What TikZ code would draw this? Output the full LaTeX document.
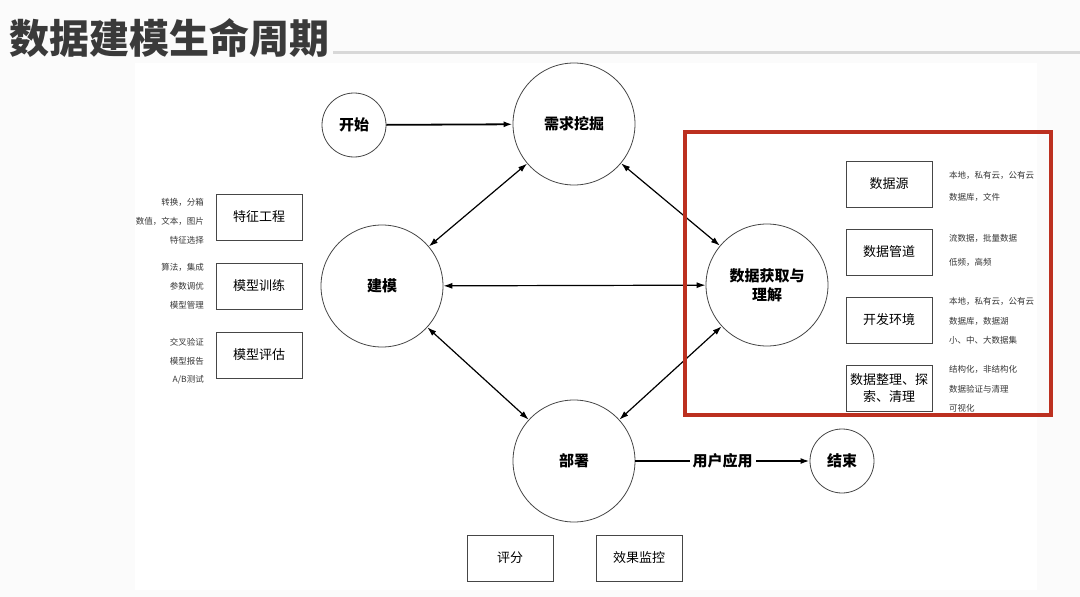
\documentclass[tikz,border=0pt]{standalone}
\usepackage{fontspec}
\setmainfont{Noto Sans CJK SC}
\usetikzlibrary{arrows.meta}
\definecolor{redink}{RGB}{188, 48, 32}
\definecolor{lineink}{RGB}{70, 70, 70}
\definecolor{titleink}{RGB}{58, 58, 58}
\definecolor{noteink}{RGB}{55, 55, 55}
\definecolor{ruleink}{RGB}{216, 216, 216}
\definecolor{pageink}{RGB}{251, 251, 251}

\begin{document}
\begin{tikzpicture}[x=1pt, y=-1pt,
  stage/.style={circle, draw=lineink, line width=0.8pt, minimum size=122pt, inner sep=0pt, align=center, font=\bfseries\fontsize{15}{19}\selectfont},
  endstage/.style={stage, minimum size=64pt},
  task/.style={rectangle, draw=lineink, line width=0.8pt, minimum width=86pt, minimum height=46pt, align=center, font=\fontsize{13}{17}\selectfont},
  note/.style={font=\fontsize{8.5}{10}\selectfont, text=noteink, inner sep=0pt},
  flow/.style={-{Latex[length=9pt, width=6pt]}, line width=1.8pt},
  link/.style={{Latex[length=9pt, width=6pt]}-{Latex[length=9pt, width=6pt]}, line width=1.2pt}]
  \useasboundingbox (0,0) rectangle (1080,597);
  \fill[pageink] (0,0) rectangle (1080,597);
  \fill[white] (135,63) rectangle (1037,590);
  % title
  \node[anchor=west, inner sep=0pt, text=titleink, font=\bfseries\fontsize{40}{46}\selectfont] (title) at (9,38) {数据建模生命周期};
  \draw[ruleink, line width=3pt] (333,52) -- (1080,52);
  % stages
  \node[endstage] (start) at (354,125) {开始};
  \node[stage] (need) at (574,124) {需求挖掘};
  \node[stage] (model) at (382,286) {建模};
  \node[stage] (data) at (767,285) {数据获取与\\理解};
  \node[stage] (deploy) at (574,461) {部署};
  \node[endstage] (finish) at (842,461) {结束};
  \draw[flow] (start) -- (need);
  \draw[link] (need) -- (model);
  \draw[link] (need) -- (data);
  \draw[link] (model) -- (data);
  \draw[link] (model) -- (deploy);
  \draw[link] (data) -- (deploy);
  \draw[flow] (deploy) -- node[fill=white, inner sep=3pt, font=\bfseries\fontsize{15}{19}\selectfont] (use) {用户应用} (finish);
  % modelling tasks
  \node[task] (feat) at (259,217) {特征工程};
  \node[task] (train) at (259,286) {模型训练};
  \node[task] (eval) at (259,355) {模型评估};
  \node[note, anchor=east] (feat1) at (204,202) {转换，分箱};
  \node[note, anchor=east] (feat2) at (204,221) {数值，文本，图片};
  \node[note, anchor=east] (feat3) at (204,240) {特征选择};
  \node[note, anchor=east] (train1) at (204,267) {算法，集成};
  \node[note, anchor=east] (train2) at (204,286) {参数调优};
  \node[note, anchor=east] (train3) at (204,305) {模型管理};
  \node[note, anchor=east] (eval1) at (204,342) {交叉验证};
  \node[note, anchor=east] (eval2) at (204,361) {模型报告};
  \node[note, anchor=east] (eval3) at (204,380) {A/B测试};
  % data tasks
  \draw[redink, line width=3.5pt] (685,132) rectangle (1051,415);
  \node[task] (src) at (889,184) {数据源};
  \node[task] (pipe) at (889,252) {数据管道};
  \node[task] (env) at (889,320) {开发环境};
  \node[task] (clean) at (889,388) {数据整理、探\\索、清理};
  \node[note, anchor=west] (src1) at (949,175) {本地，私有云，公有云};
  \node[note, anchor=west] (src2) at (949,197) {数据库，文件};
  \node[note, anchor=west] (pipe1) at (949,238) {流数据，批量数据};
  \node[note, anchor=west] (pipe2) at (949,262) {低频，高频};
  \node[note, anchor=west] (env1) at (949,301) {本地，私有云，公有云};
  \node[note, anchor=west] (env2) at (949,321) {数据库，数据湖};
  \node[note, anchor=west] (env3) at (949,340) {小、中、大数据集};
  \node[note, anchor=west] (clean1) at (949,369) {结构化，非结构化};
  \node[note, anchor=west] (clean2) at (949,389) {数据验证与清理};
  \node[note, anchor=west] (clean3) at (949,408) {可视化};
  % deploy tasks
  \node[task] (score) at (510,558) {评分};
  \node[task] (monitor) at (639,558) {效果监控};
\end{tikzpicture}
\end{document}
